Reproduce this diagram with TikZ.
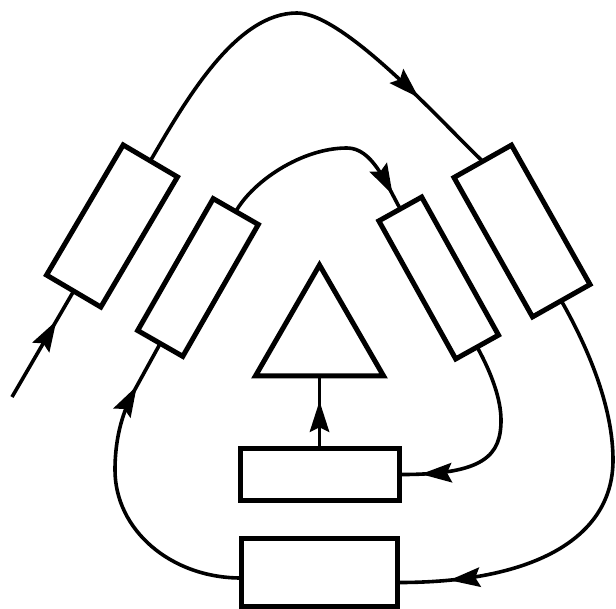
\documentclass[tikz,border=0pt]{standalone}
\usetikzlibrary{decorations.markings,shapes.geometric}
\tikzset{
  box/.style={draw, rectangle, line width=5pt, inner sep=0pt, outer sep=0pt},
  wire/.style={line width=3.6pt},
  tipat/.style={postaction={decorate}, decoration={markings, mark=at position #1 with {\fill (1pt,0pt) -- (-30pt,10pt) -- (-25pt,0pt) -- (-30pt,-10pt) -- cycle;}}},
}
\begin{document}
\begin{tikzpicture}[x=1pt,y=-1pt]
\useasboundingbox (0,0) rectangle (616,609);
% rotated boxes
\node[box, minimum width=151pt, minimum height=63pt, rotate=59.5] (oL) at (112,226) {};
\node[box, minimum width=152pt, minimum height=52pt, rotate=60.2] (iL) at (198,277.5) {};
\node[box, minimum width=158pt, minimum height=49pt, rotate=119.1] (iR) at (438.7,278) {};
\node[box, minimum width=160pt, minimum height=66pt, rotate=119.4] (oR) at (522,231) {};
% bottom boxes
\node[box, minimum width=159pt, minimum height=51pt] (B1) at (319.5,474.5) {};
\node[box, minimum width=156pt, minimum height=68pt] (B2) at (319,572) {};
% triangle
\node[draw, line width=5pt, regular polygon, regular polygon sides=3, minimum size=148pt, inner sep=0pt, outer sep=0pt] (tri) at (319.5,339) {};
% input
\coordinate (in) at (12,397);
\draw[wire, tipat=0.71] (in) -- (oL.west);
% outer arc
\draw[wire, tipat=0.80] (oL.east) .. controls (188,96) and (237,13) .. (297,13)
  .. controls (345,13) and (447,128) .. (oR.east);
% inner arc
\draw[wire, tipat=0.92] (iL.east) .. controls (253,181) and (302,148) .. (347,148)
  .. controls (372,148) and (385.4,182.1) .. (iR.east);
% inner right to B1
\draw[wire, tipat=0.89] (iR.west) .. controls (492,374) and (501,400) .. (501,420)
  .. controls (501,455) and (485,475) .. (B1.east);
% outer right to B2
\draw[wire, tipat=0.88] (oR.west) .. controls (591,353) and (613,410) .. (613,460)
  .. controls (613,540) and (530,583) .. ([yshift=-10.5pt]B2.east);
% B2 to inner left
\draw[wire, tipat=0.845] ([yshift=-6pt]B2.west) .. controls (171,578) and (115,530) .. (115,470)
  .. controls (115,435) and (124,410) .. (133,393) -- (iL.west);
% B1 to triangle
\draw[wire, tipat=0.64] (B1.north) -- (tri);
\end{tikzpicture}
\end{document}
